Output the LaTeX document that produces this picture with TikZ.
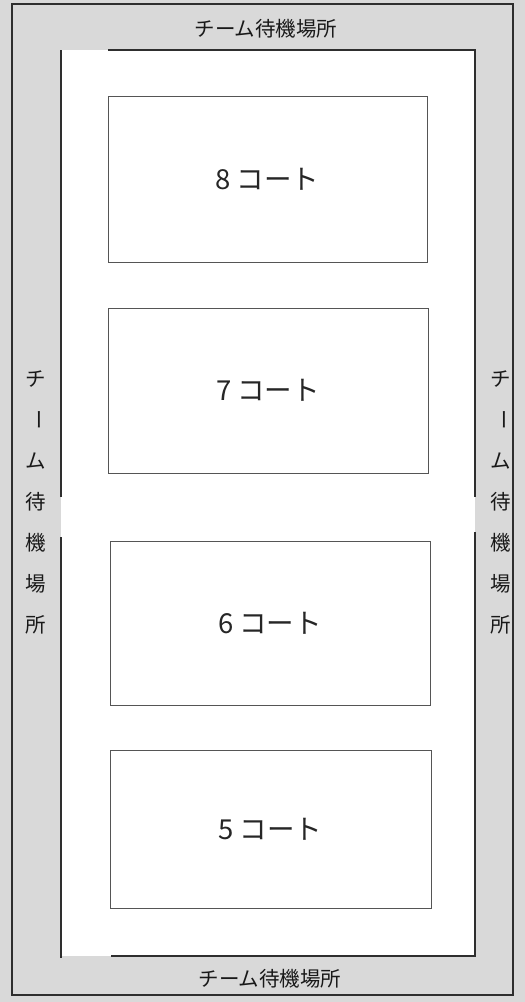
\documentclass[tikz,border=0pt]{standalone}
\usepackage{fontspec}
\newfontfamily\cjk{Noto Sans CJK JP}
\definecolor{bggray}{HTML}{D9D9D9}
\definecolor{lineink}{HTML}{2E2E2E}
\definecolor{courtink}{HTML}{555555}
\begin{document}
\begin{tikzpicture}[x=1pt,y=-1pt,
  frameline/.style={draw=lineink,line width=1.6pt},
  outerline/.style={draw=lineink,line width=1.2pt},
  court/.style={draw=courtink,line width=1pt,fill=white,inner sep=0pt,outer sep=0pt,
    font=\cjk\fontsize{27.5}{30}\selectfont,text=black!85},
  waitlab/.style={font=\cjk\fontsize{20.5}{24}\selectfont,text=black!90,inner sep=0pt},
]
\useasboundingbox (0,0) rectangle (525,1002);
\fill[bggray] (0,0) rectangle (525,1002);
\draw[outerline] (12,4) rectangle (513,995);
\fill[white] (61,50) rectangle (475,956);
% inner frame lines
\coordinate (lt) at (61,50);  \coordinate (lg1) at (61,497);
\coordinate (lg2) at (61,537); \coordinate (lb) at (61,958);
\coordinate (tl) at (108,50); \coordinate (tr) at (475,50);
\coordinate (rg1) at (475,497); \coordinate (rg2) at (475,532);
\coordinate (rb) at (475,956);
\coordinate (bl) at (111,956);
\draw[frameline] (lt) -- (lg1);
\draw[frameline] (lg2) -- (lb);
\draw[frameline] (tl) -- (tr) -- (rg1);
\draw[frameline] (rg2) -- (rb) -- (bl);
% courts
\node[court,minimum width=319pt,minimum height=166pt] (c8) at (267.5,179) {8\hspace{6pt}コート};
\node[court,minimum width=320pt,minimum height=165pt] (c7) at (268,390.5) {7\hspace{6pt}コート};
\node[court,minimum width=320pt,minimum height=164pt] (c6) at (270,623) {6\hspace{6pt}コート};
\node[court,minimum width=321pt,minimum height=158pt] (c5) at (270.5,829) {5\hspace{6pt}コート};
% waiting area labels
\node[waitlab] (wtop) at (266,29) {チーム待機場所};
\node[waitlab] (wbot) at (270,979) {チーム待機場所};
\foreach \side/\xx in {l/36,r/501}{
  \node[waitlab] (w\side1) at (\xx,379) {チ};
  \node[waitlab,rotate=-90] (w\side2) at (\xx,420) {ー};
  \node[waitlab] (w\side3) at (\xx,461) {ム};
  \node[waitlab] (w\side4) at (\xx,502) {待};
  \node[waitlab] (w\side5) at (\xx,543) {機};
  \node[waitlab] (w\side6) at (\xx,584) {場};
  \node[waitlab] (w\side7) at (\xx,625) {所};
}
\end{tikzpicture}
\end{document}
